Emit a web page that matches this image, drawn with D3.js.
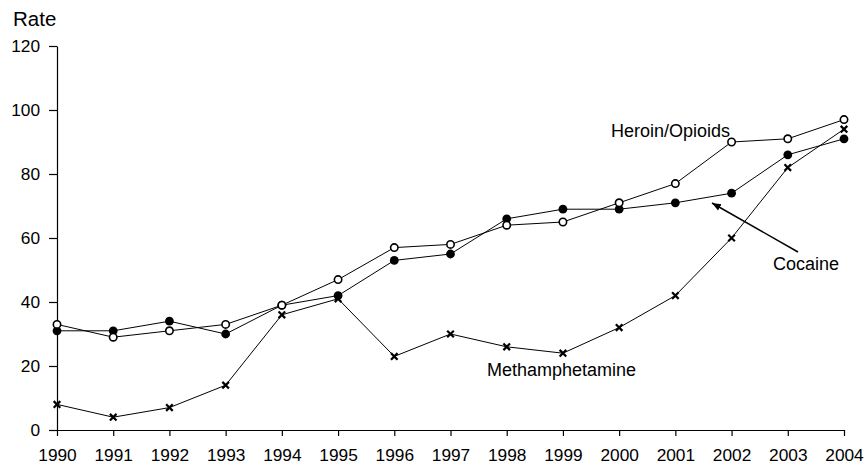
<!DOCTYPE html>
<html lang="en">
<head>
<meta charset="utf-8">
<title>Rate</title>
<script src="https://d3js.org/d3.v7.min.js"></script>
<style>
  body { margin: 0; background: #fff; }
  svg text { font-family: Arial, "Liberation Sans", sans-serif; fill: #000; }
</style>
</head>
<body>
<script>
var years = [1990, 1991, 1992, 1993, 1994, 1995, 1996, 1997, 1998, 1999, 2000, 2001, 2002, 2003, 2004];
var heroin = [33, 29, 31, 33, 39, 47, 57, 58, 64, 65, 71, 77, 90, 91, 97];
var cocaine = [31, 31, 34, 30, 39, 42, 53, 55, 66, 69, 69, 71, 74, 86, 91];
var meth = [8, 4, 7, 14, 36, 41, 23, 30, 26, 24, 32, 42, 60, 82, 94];
var yTicks = [0, 20, 40, 60, 80, 100, 120];

var width = 864, height = 466;

var svg = d3.select("body").append("svg")
    .attr("width", width)
    .attr("height", height);

var x = d3.scaleLinear().domain([1990, 2004]).range([57, 844]);
var y = d3.scaleLinear().domain([0, 120]).range([430, 46]);

// axes
var xAxis = svg.append("g")
    .attr("transform", "translate(0," + y(0) + ")")
    .call(d3.axisBottom(x).tickValues(years).tickFormat(d3.format("d"))
      .tickSize(6).tickPadding(13).tickSizeOuter(0));
xAxis.selectAll("text").style("font-size", "17.3px");

var yAxis = svg.append("g")
    .attr("transform", "translate(" + x(1990) + ",0)")
    .call(d3.axisLeft(y).tickValues(yTicks).tickSize(8).tickPadding(9).tickSizeOuter(0));
yAxis.selectAll("text").style("font-size", "17.3px");

svg.selectAll(".domain, .tick line").attr("stroke", "#000").attr("stroke-width", 1.2);

svg.append("text")
    .attr("x", 13).attr("y", 26)
    .style("font-size", "20.5px")
    .text("Rate");

var line = d3.line()
    .x(function(d, i) { return x(years[i]); })
    .y(function(d) { return y(d); });

[heroin, cocaine, meth].forEach(function(s) {
  svg.append("path")
      .datum(s)
      .attr("d", line)
      .attr("fill", "none")
      .attr("stroke", "#000")
      .attr("stroke-width", 1);
});

// markers
svg.append("g").selectAll("circle")
    .data(cocaine).enter().append("circle")
    .attr("cx", function(d, i) { return x(years[i]); })
    .attr("cy", function(d) { return y(d); })
    .attr("r", 4.4)
    .attr("fill", "#000");

svg.append("g").selectAll("circle")
    .data(heroin).enter().append("circle")
    .attr("cx", function(d, i) { return x(years[i]); })
    .attr("cy", function(d) { return y(d); })
    .attr("r", 3.7)
    .attr("fill", "#fff")
    .attr("stroke", "#000")
    .attr("stroke-width", 1.6);

svg.append("g").selectAll("path")
    .data(meth).enter().append("path")
    .attr("transform", function(d, i) { return "translate(" + x(years[i]) + "," + y(d) + ")"; })
    .attr("d", "M-3.3,-3.3L3.3,3.3M-3.3,3.3L3.3,-3.3")
    .attr("stroke", "#000")
    .attr("stroke-width", 2.2);

// labels
svg.append("text").attr("x", 611).attr("y", 137).style("font-size", "18px").text("Heroin/Opioids");
svg.append("text").attr("x", 773).attr("y", 270).style("font-size", "18px").text("Cocaine");
svg.append("text").attr("x", 487).attr("y", 376).style("font-size", "18px").text("Methamphetamine");

svg.append("defs").append("marker")
    .attr("id", "arr")
    .attr("viewBox", "0 0 10 10")
    .attr("refX", 10).attr("refY", 5)
    .attr("markerWidth", 6).attr("markerHeight", 6)
    .attr("orient", "auto")
    .append("path").attr("d", "M0,1L10,5L0,9Z").attr("fill", "#000");

svg.append("line")
    .attr("x1", 798).attr("y1", 252)
    .attr("x2", 712).attr("y2", 203)
    .attr("stroke", "#000")
    .attr("stroke-width", 1.5)
    .attr("marker-end", "url(#arr)");
</script>
</body>
</html>
